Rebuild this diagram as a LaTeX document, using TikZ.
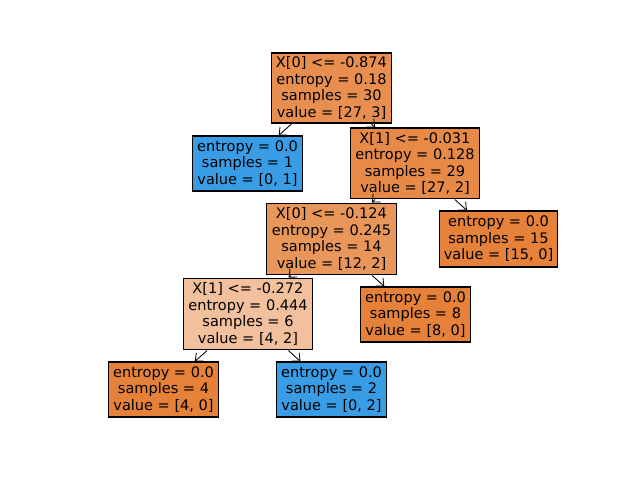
\documentclass[tikz,border=0pt]{standalone}
\usepackage{fontspec}
\setmainfont{DejaVu Sans}
\usetikzlibrary{arrows.meta}
\definecolor{c0}{RGB}{232,143,79}
\definecolor{c1}{RGB}{231,138,72}
\definecolor{c2}{RGB}{233,150,90}
\definecolor{c3}{RGB}{242,192,156}
\definecolor{cor}{RGB}{229,129,57}
\definecolor{cbl}{RGB}{57,157,229}
\tikzset{
  treebox/.style={draw=black, line width=0.9pt, inner sep=0pt, align=center,
    font=\fontsize{10.5}{11.9}\selectfont},
  leafbox/.style={treebox, minimum width=79.9pt, minimum height=39.6pt},
  edgearrow/.style={-{Straight Barb[length=4.5pt,width=8pt]}, line width=0.6pt}
}
\begin{document}
\begin{tikzpicture}[x=0.01in,y=-0.01in]
\useasboundingbox[fill=white] (0,0) rectangle (640,480);
\node[treebox, fill=c0, minimum width=87.1pt, minimum height=50.4pt] (n0) at (331.5,88) {X[0] <= -0.874\\entropy = 0.18\\samples = 30\\value = [27, 3]};
\node[leafbox, fill=cbl] (n1) at (247.5,163.5) {entropy = 0.0\\samples = 1\\value = [0, 1]};
\node[treebox, fill=c1, minimum width=93.6pt, minimum height=51.1pt] (n2) at (415,163.5) {X[1] <= -0.031\\entropy = 0.128\\samples = 29\\value = [27, 2]};
\node[treebox, fill=c2, minimum width=94.3pt, minimum height=51.8pt] (n3) at (331.5,239) {X[0] <= -0.124\\entropy = 0.245\\samples = 14\\value = [12, 2]};
\node[leafbox, fill=cor, minimum width=85.7pt, minimum height=40.3pt] (n8) at (498.5,239) {entropy = 0.0\\samples = 15\\value = [15, 0]};
\node[treebox, fill=c3, minimum width=93.6pt, minimum height=51.8pt] (n4) at (248,314) {X[1] <= -0.272\\entropy = 0.444\\samples = 6\\value = [4, 2]};
\node[leafbox, fill=cor] (n7) at (415.5,314.5) {entropy = 0.0\\samples = 8\\value = [8, 0]};
\node[leafbox, fill=cor] (n5) at (163.5,389.5) {entropy = 0.0\\samples = 4\\value = [4, 0]};
\node[leafbox, fill=cbl] (n6) at (331.5,389.5) {entropy = 0.0\\samples = 2\\value = [0, 2]};
\draw[edgearrow] (n0) -- (n1);
\draw[edgearrow] (n0) -- (n2);
\draw[edgearrow] (n2) -- (n3);
\draw[edgearrow] (n2) -- (n8);
\draw[edgearrow] (n3) -- (n4);
\draw[edgearrow] (n3) -- (n7);
\draw[edgearrow] (n4) -- (n5);
\draw[edgearrow] (n4) -- (n6);
\end{tikzpicture}
\end{document}
